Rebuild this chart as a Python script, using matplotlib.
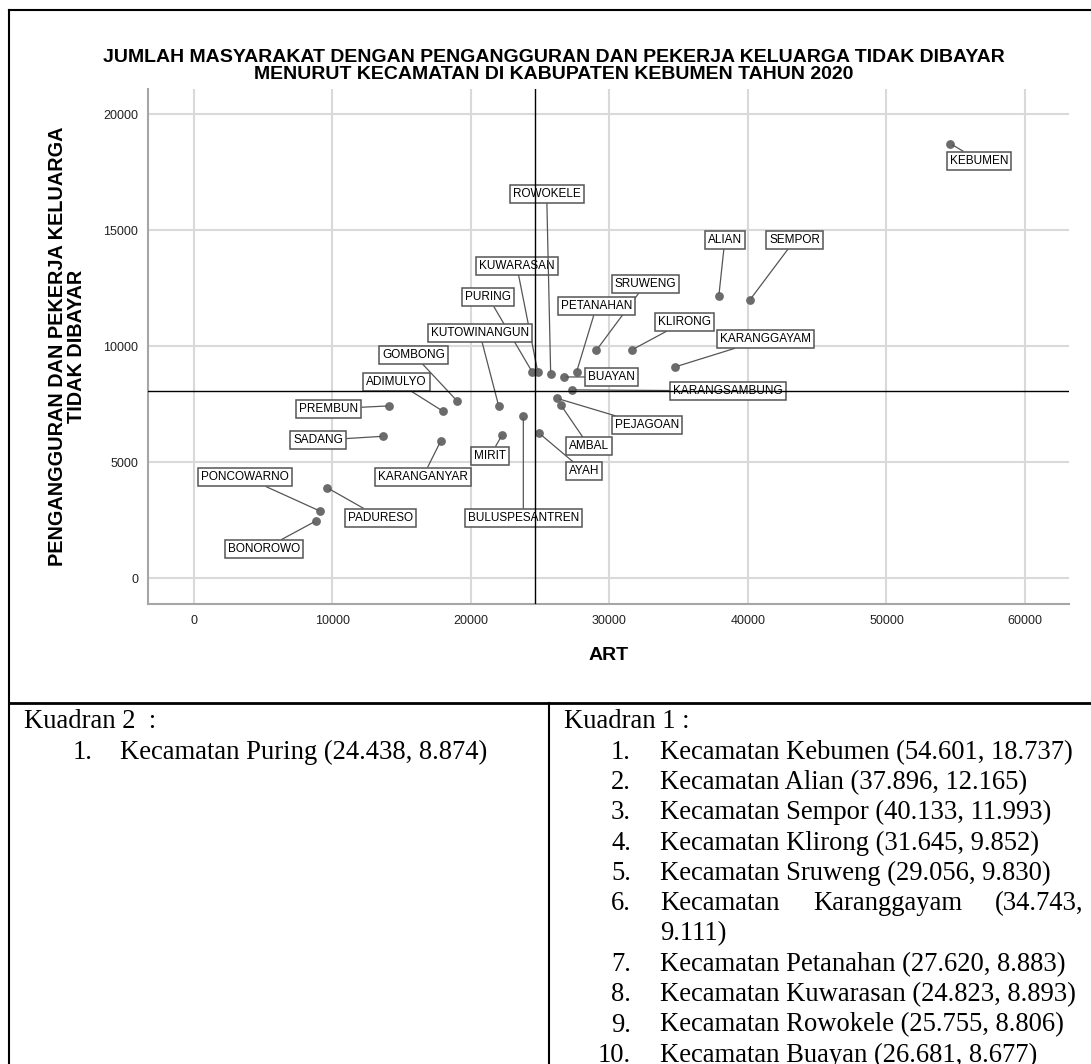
import matplotlib
matplotlib.use("Agg")
import matplotlib.pyplot as plt
from matplotlib.lines import Line2D

# Kecamatan data: ART (x) and pengangguran + pekerja keluarga tidak dibayar (y)
kecamatan = ["KEBUMEN", "ALIAN", "SEMPOR", "KLIRONG", "SRUWENG", "KARANGGAYAM",
             "PETANAHAN", "KUWARASAN", "ROWOKELE", "BUAYAN", "PURING",
             "KARANGSAMBUNG", "PEJAGOAN", "AMBAL", "AYAH", "BULUSPESANTREN",
             "MIRIT", "KUTOWINANGUN", "KARANGANYAR", "GOMBONG", "ADIMULYO",
             "PREMBUN", "SADANG", "PADURESO", "PONCOWARNO", "BONOROWO"]
art = [54601, 37896, 40133, 31645, 29056, 34743,
       27620, 24823, 25755, 26681, 24438,
       27310, 26190, 26500, 24930, 23780,
       22260, 22000, 17830, 18970, 17950,
       14080, 13670, 9620, 9120, 8810]
pengangguran = [18737, 12165, 11993, 9852, 9830, 9111,
                8883, 8893, 8806, 8677, 8874,
                8120, 7760, 7460, 6250, 7010,
                6190, 7430, 5930, 7660, 7210,
                7430, 6120, 3900, 2890, 2470]

# quadrant reference lines
ref_x = 24620
ref_y = 8070

title = ("JUMLAH MASYARAKAT DENGAN PENGANGGURAN DAN PEKERJA KELUARGA TIDAK DIBAYAR\n"
         "MENURUT KECAMATAN DI KABUPATEN KEBUMEN TAHUN 2020")
xlabel = "ART"
ylabel = "PENGANGGURAN DAN PEKERJA KELUARGA\nTIDAK DIBAYAR"

kuadran2_items = ["Kecamatan Puring (24.438, 8.874)"]
kuadran1_items = ["Kecamatan Kebumen (54.601, 18.737)",
                  "Kecamatan Alian (37.896, 12.165)",
                  "Kecamatan Sempor (40.133, 11.993)",
                  "Kecamatan Klirong (31.645, 9.852)",
                  "Kecamatan Sruweng (29.056, 9.830)",
                  "Kecamatan Karanggayam (34.743, 9.111)",
                  "Kecamatan Petanahan (27.620, 8.883)",
                  "Kecamatan Kuwarasan (24.823, 8.893)",
                  "Kecamatan Rowokele (25.755, 8.806)",
                  "Kecamatan Buayan (26.681, 8.677)"]

# label box offsets in pixels from each point (dx right, dy up)
label_offsets = {
    "KEBUMEN": (29, -17), "ALIAN": (6, 56), "SEMPOR": (45, 60),
    "KLIRONG": (52, 28), "SRUWENG": (49, 66), "KARANGGAYAM": (90, 28),
    "PETANAHAN": (20, 66), "KUWARASAN": (-21, 106), "ROWOKELE": (-4, 180),
    "BUAYAN": (48, 0), "PURING": (-44, 75), "KARANGSAMBUNG": (156, -1),
    "PEJAGOAN": (90, -27), "AMBAL": (28, -41), "AYAH": (45, -38),
    "BULUSPESANTREN": (0, -102), "MIRIT": (-12, -21), "KUTOWINANGUN": (-19, 73),
    "KARANGANYAR": (-18, -36), "GOMBONG": (-43, 46), "ADIMULYO": (-46, 29),
    "PREMBUN": (-60, -3), "SADANG": (-65, -4), "PADURESO": (53, -30),
    "PONCOWARNO": (-75, 34), "BONOROWO": (-52, -28),
}

W, H = 1091, 1064
fig = plt.figure(figsize=(W / 100, H / 100), dpi=100)
sans = "Liberation Sans"
serif = "Liberation Serif"


def fx(x):
    return x / W


def fy(y):
    return 1 - y / H


ax = fig.add_axes([fx(148), fy(604), (1069 - 148) / W, (604 - 89) / H])
ax.set_xlim(-3320, 63180)
ax.set_ylim(-1110, 21090)
ax.set_xticks(range(0, 60001, 10000))
ax.set_yticks(range(0, 20001, 5000))
ax.grid(True, color="#d9d9d9", lw=1.5)
ax.set_axisbelow(True)
for s in ["top", "right"]:
    ax.spines[s].set_visible(False)
for s in ["left", "bottom"]:
    ax.spines[s].set_color("#a6a6a6")
    ax.spines[s].set_linewidth(1.5)
ax.tick_params(length=0, labelsize=9, labelcolor="#222222")
ax.tick_params(axis="x", pad=8)
ax.tick_params(axis="y", pad=7)
for lab in ax.get_xticklabels() + ax.get_yticklabels():
    lab.set_family(sans)

ax.scatter(art, pengangguran, s=40, color="#6b6b6b", zorder=3, linewidths=0)

for name, x, y in zip(kecamatan, art, pengangguran):
    dx, dy = label_offsets[name]
    ax.annotate(name, (x, y), xytext=(dx, dy), textcoords="offset pixels",
                ha="center", va="center", fontsize=8.5, family=sans,
                bbox=dict(boxstyle="square,pad=0.25", fc="white", ec="#555555", lw=1.1),
                arrowprops=dict(arrowstyle="-", color="#555555", lw=0.9,
                                shrinkA=0, shrinkB=2),
                zorder=4)

ax.axvline(ref_x, color="black", lw=1.0, zorder=5)
ax.axhline(ref_y, color="black", lw=1.0, zorder=5)

fig.text(fx(554), fy(66), title, ha="center", va="center", fontsize=14.0,
         fontweight="bold", family=sans, linespacing=0.95)
fig.text(fx(609), fy(656), xlabel, ha="center", va="center", fontsize=14,
         fontweight="bold", family=sans)
fig.text(fx(67), fy(346), ylabel, ha="center", va="center", fontsize=14.3,
         fontweight="bold", family=sans, rotation=90, linespacing=1.0)

# document table borders
def hline(y, x0, x1, lw):
    fig.add_artist(Line2D([fx(x0), fx(x1)], [fy(y), fy(y)], color="black", lw=lw))


def vline(x, y0, y1, lw):
    fig.add_artist(Line2D([fx(x), fx(x)], [fy(y0), fy(y1)], color="black", lw=lw))


hline(10, 9, W, 1.5)
vline(9, 10, H, 1.5)
hline(703, 9, W, 2.0)
vline(549, 703, H, 1.5)

# table text
row_y0 = 722
row_step = 30.3
tsize = 19.2

fig.text(fx(24), fy(row_y0), "Kuadran 2  :", ha="left", va="center",
         fontsize=tsize, family=serif)
for i, item in enumerate(kuadran2_items):
    y = row_y0 + (i + 1) * row_step
    fig.text(fx(73), fy(y), f"{i + 1}.", ha="left", va="center", fontsize=tsize, family=serif)
    fig.text(fx(120), fy(y), item, ha="left", va="center", fontsize=tsize, family=serif)

fig.text(fx(564), fy(row_y0), "Kuadran 1 :", ha="left", va="center",
         fontsize=tsize, family=serif)
row = 1
for i, item in enumerate(kuadran1_items):
    y = row_y0 + row * row_step
    fig.text(fx(631), fy(y), f"{i + 1}.", ha="right", va="center", fontsize=tsize, family=serif)
    if i == 5:
        # justified line that wraps in the document
        words = item.split(" ")
        fig.text(fx(660), fy(y), words[0], ha="left", va="center", fontsize=tsize, family=serif)
        fig.text(fx(813), fy(y), words[1], ha="left", va="center", fontsize=tsize, family=serif)
        fig.text(fx(1083), fy(y), words[2], ha="right", va="center", fontsize=tsize, family=serif)
        row += 1
        y = row_y0 + row * row_step
        fig.text(fx(660), fy(y), words[3], ha="left", va="center", fontsize=tsize, family=serif)
    else:
        fig.text(fx(660), fy(y), item, ha="left", va="center", fontsize=tsize, family=serif)
    row += 1

fig.savefig("out.png", dpi=100)
